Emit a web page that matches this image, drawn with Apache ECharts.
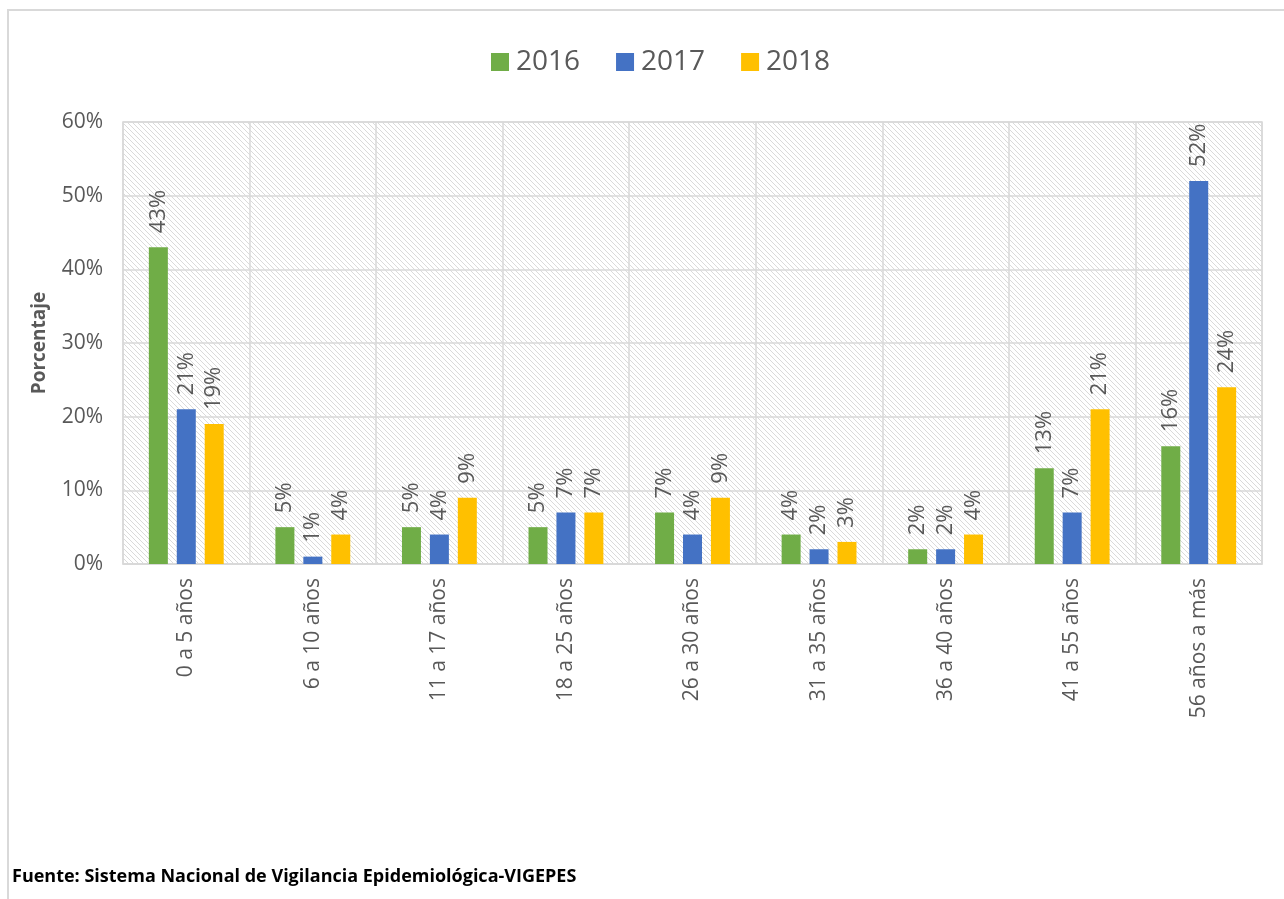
<!DOCTYPE html>
<html>
<head>
<meta charset="utf-8">
<script src="https://cdn.jsdelivr.net/npm/echarts@6/dist/echarts.min.js"></script>
<style>
  html, body { margin: 0; padding: 0; background: #fff; }
  #chart { width: 1284px; height: 899px; }
</style>
</head>
<body>
<div id="chart"></div>
<script>
// datos
var grupos = ['0 a 5 años', '6 a 10 años', '11 a 17 años', '18 a 25 años', '26 a 30 años',
              '31 a 35 años', '36 a 40 años', '41 a 55 años', '56 años a más'];
var anios = ['2016', '2017', '2018'];
var v2016 = [43, 5, 5, 5, 7, 4, 2, 13, 16];
var v2017 = [21, 1, 4, 7, 4, 2, 2, 7, 52];
var v2018 = [19, 4, 9, 7, 9, 3, 4, 21, 24];
var colores = ['#70AD47', '#4472C4', '#FFC000'];

var fuente = '"Open Sans", "DejaVu Sans", sans-serif';
var gris = '#595959';

// fondo rayado del area de trazado
function rayado() {
  var c = document.createElement('canvas');
  c.width = 5; c.height = 5;
  var ctx = c.getContext('2d');
  ctx.fillStyle = '#ffffff';
  ctx.fillRect(0, 0, 5, 5);
  ctx.strokeStyle = '#dadada';
  ctx.lineWidth = 1;
  ctx.beginPath();
  ctx.moveTo(-1, -1); ctx.lineTo(6, 6);
  ctx.moveTo(-1, 4); ctx.lineTo(1, 6);
  ctx.moveTo(4, -1); ctx.lineTo(6, 1);
  ctx.stroke();
  return c;
}

var myChart = echarts.init(document.getElementById('chart'));

function serie(nombre, datos, i) {
  return {
    name: nombre,
    type: 'bar',
    data: datos,
    barWidth: 19,
    barGap: '47%',
    itemStyle: { color: colores[i] },
    label: {
      show: true,
      position: 'top',
      distance: 14,
      rotate: 90,
      align: 'left',
      verticalAlign: 'middle',
      formatter: '{c}%',
      color: gris,
      fontFamily: fuente,
      fontSize: 22
    }
  };
}

myChart.setOption({
  animation: false,
  legend: {
    top: 43,
    left: 486,
    itemWidth: 18,
    itemHeight: 18,
    itemGap: 36,
    icon: 'rect',
    textStyle: { color: gris, fontFamily: fuente, fontSize: 28, padding: [0, 0, 0, 2] },
    data: anios
  },
  grid: {
    left: 123,
    right: 22,
    top: 122,
    bottom: 335,
    show: true,
    backgroundColor: { image: rayado(), repeat: 'repeat' },
    borderColor: '#d9d9d9',
    borderWidth: 1.5
  },
  xAxis: {
    type: 'category',
    data: grupos,
    axisTick: { show: false },
    axisLine: { lineStyle: { color: '#d9d9d9', width: 1.5 } },
    splitLine: { show: true, lineStyle: { color: '#d9d9d9', width: 1.5 } },
    axisLabel: {
      rotate: 90,
      margin: 14,
      interval: 0,
      color: gris,
      fontFamily: fuente,
      fontSize: 21
    }
  },
  yAxis: {
    type: 'value',
    min: 0,
    max: 60,
    interval: 10,
    name: 'Porcentaje',
    nameLocation: 'middle',
    nameGap: 74,
    nameTextStyle: { color: gris, fontFamily: fuente, fontSize: 19, fontWeight: 'bold' },
    axisLine: { show: false },
    axisTick: { show: false },
    splitLine: { lineStyle: { color: '#d9d9d9', width: 1.5 } },
    axisLabel: {
      formatter: '{value}%',
      margin: 20,
      color: gris,
      fontFamily: fuente,
      fontSize: 21
    }
  },
  graphic: [
    {
      type: 'rect',
      shape: { x: 8, y: 10, width: 1300, height: 920 },
      style: { fill: 'none', stroke: '#d9d9d9', lineWidth: 2 },
      silent: true
    },
    {
      type: 'text',
      left: 12,
      top: 868,
      style: {
        text: 'Fuente: Sistema Nacional de Vigilancia Epidemiológica-VIGEPES',
        fill: '#000',
        font: 'bold 18px ' + fuente
      }
    }
  ],
  series: [
    serie(anios[0], v2016, 0),
    serie(anios[1], v2017, 1),
    serie(anios[2], v2018, 2)
  ]
});
</script>
</body>
</html>
